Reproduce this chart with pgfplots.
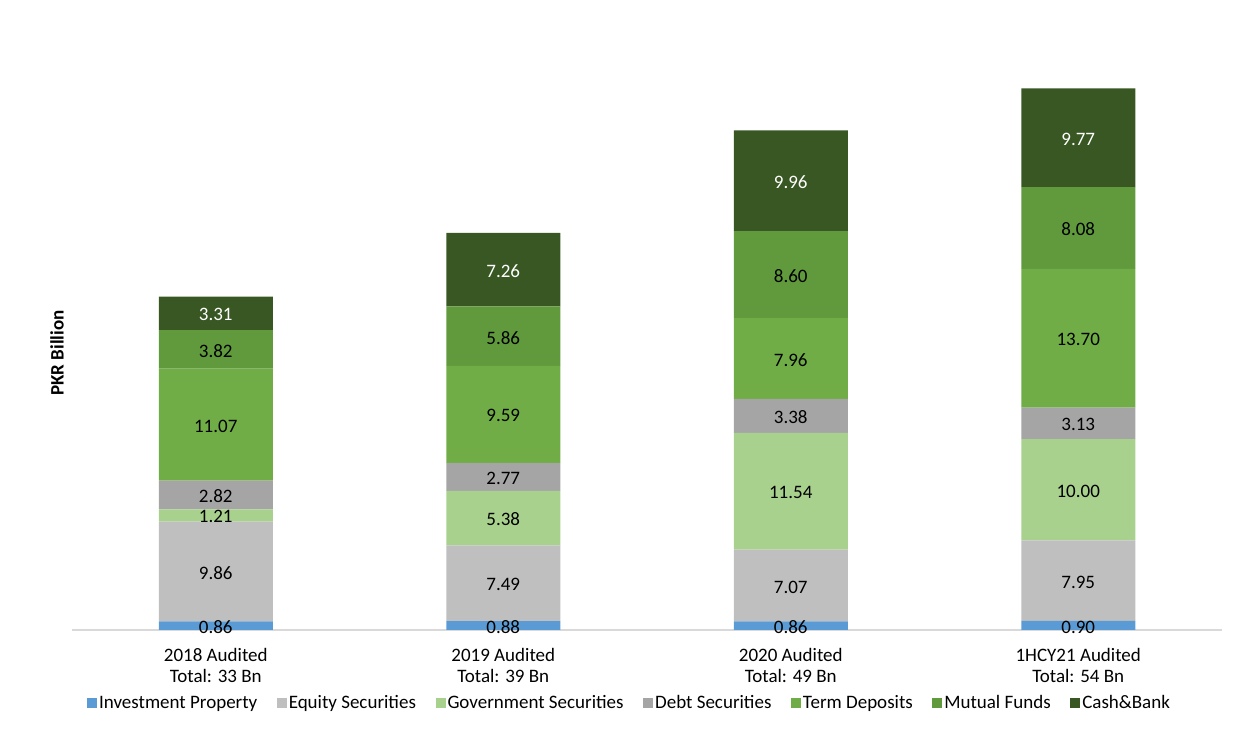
\documentclass[border=0pt]{standalone}
\usepackage{pgfplots}
\pgfplotsset{compat=1.18}
\usepackage{fontspec}
\setmainfont{Carlito}
\definecolor{cInv}{HTML}{5B9BD5}
\definecolor{cEq}{HTML}{BFBFBF}
\definecolor{cGov}{HTML}{A9D18E}
\definecolor{cDebt}{HTML}{A5A5A5}
\definecolor{cTerm}{HTML}{70AD47}
\definecolor{cMut}{HTML}{609A3D}
\definecolor{cCash}{HTML}{385723}
\definecolor{cAxis}{HTML}{D9D9D9}
\begin{document}
\begin{tikzpicture}[font=\fontsize{19}{23}\selectfont]
\useasboundingbox (-72pt,-105pt) rectangle (1163pt,630pt);
\begin{axis}[
  at={(0pt,0pt)}, anchor=south west,
  scale only axis,
  x=287.5pt, y=10.12pt,
  xmin=-0.5, xmax=3.5, ymin=0, ymax=60,
  ybar stacked, bar width=114pt,
  axis x line*=bottom, axis y line*=left,
  x axis line style={draw=cAxis, line width=1.2pt},
  y axis line style={draw=none},
  major tick length=0pt,
  xtick={0,1,2,3},
  xticklabels={{2018 Audited\\Total: 33 Bn},{2019 Audited\\Total: 39 Bn},{2020 Audited\\Total: 49 Bn},{1HCY21 Audited\\Total: 54 Bn}},
  xticklabel style={align=center, font=\fontsize{19}{21}\selectfont, yshift=-15pt},
  ytick=\empty,
  ylabel={\bfseries PKR Billion},
  ylabel style={at={(axis description cs:-0.004,0.456)}, anchor=south, font=\fontsize{19}{23}\selectfont},
  point meta=explicit symbolic,
  nodes near coords={\pgfplotspointmeta},
  every node near coord/.append style={anchor=center, yshift=-1.5pt, font=\fontsize{19}{23}\selectfont, text=black},
  legend columns=7,
  legend style={at={(axis description cs:0.4848,-0.120)}, anchor=center, draw=none, fill=none,
    font=\fontsize{19}{23}\selectfont,
    /tikz/every even column/.append style={column sep=17.5pt},
    nodes={inner xsep=2pt}},
  legend image code/.code={\fill[#1] (0pt,-5pt) rectangle (10pt,5pt);},
  legend cell align=left,
]
\addplot[fill=cInv, draw=none] coordinates {(0,0.86)[0.86] (1,0.88)[0.88] (2,0.86)[0.86] (3,0.90)[0.90]};
\addlegendentry{Investment Property}
\addplot[fill=cEq, draw=none] coordinates {(0,9.86)[9.86] (1,7.49)[7.49] (2,7.07)[7.07] (3,7.95)[7.95]};
\addlegendentry{Equity Securities}
\addplot[fill=cGov, draw=none] coordinates {(0,1.21)[1.21] (1,5.38)[5.38] (2,11.54)[11.54] (3,10.00)[10.00]};
\addlegendentry{Government Securities}
\addplot[fill=cDebt, draw=none] coordinates {(0,2.82)[2.82] (1,2.77)[2.77] (2,3.38)[3.38] (3,3.13)[3.13]};
\addlegendentry{Debt Securities}
\addplot[fill=cTerm, draw=none] coordinates {(0,11.07)[11.07] (1,9.59)[9.59] (2,7.96)[7.96] (3,13.70)[13.70]};
\addlegendentry{Term Deposits}
\addplot[fill=cMut, draw=none] coordinates {(0,3.82)[3.82] (1,5.86)[5.86] (2,8.60)[8.60] (3,8.08)[8.08]};
\addlegendentry{Mutual Funds}
\addplot[fill=cCash, draw=none, every node near coord/.append style={text=white}] coordinates {(0,3.31)[3.31] (1,7.26)[7.26] (2,9.96)[9.96] (3,9.77)[9.77]};
\addlegendentry{Cash\&Bank}
\end{axis}
\end{tikzpicture}
\end{document}
